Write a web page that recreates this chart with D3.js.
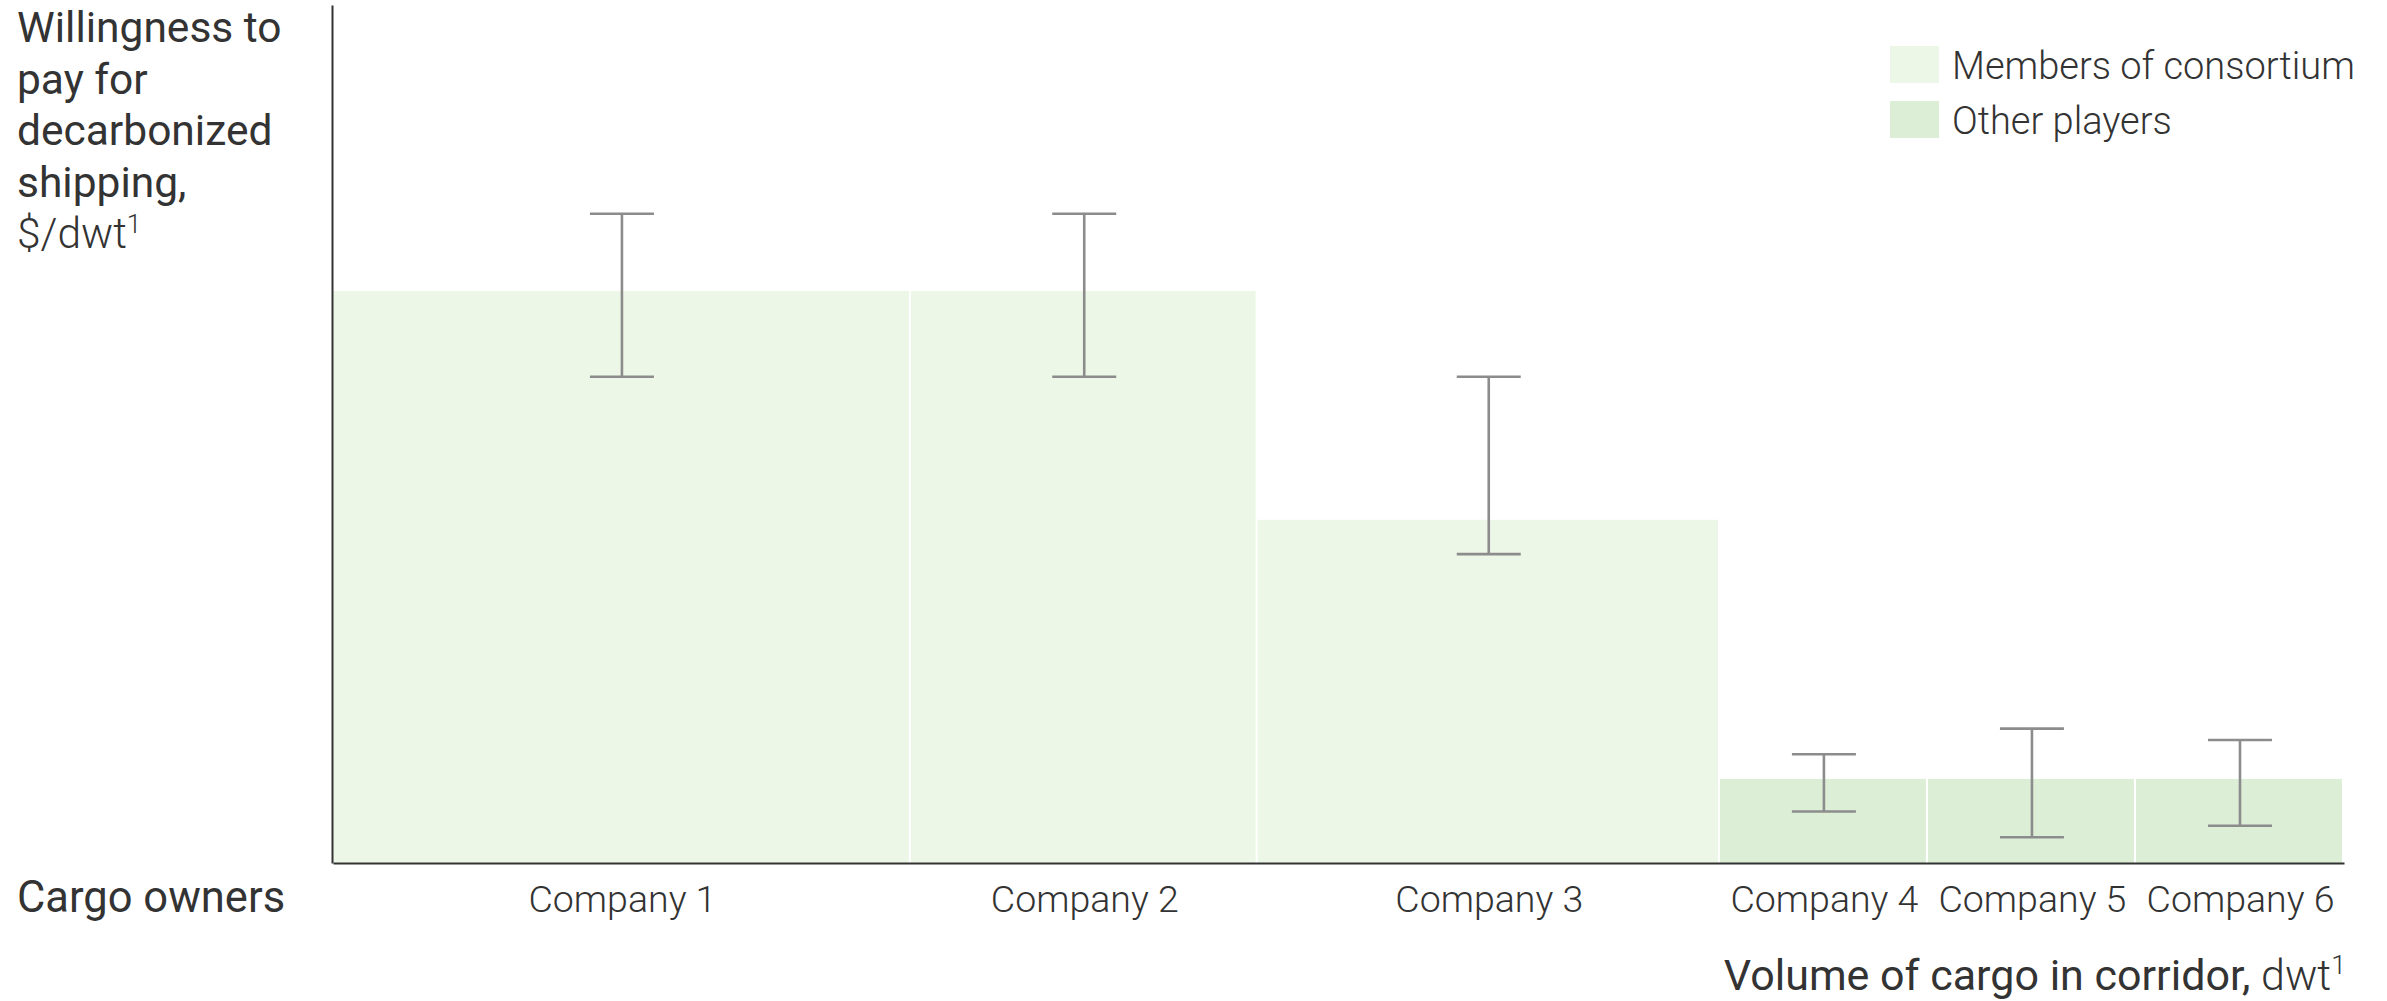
<!DOCTYPE html>
<html>
<head>
<meta charset="utf-8">
<script src="https://cdn.jsdelivr.net/npm/d3@7/dist/d3.min.js"></script>
<style>
  html, body { margin: 0; padding: 0; background: #ffffff; }
  svg { display: block; }
  text { font-family: Roboto, "Noto Sans", "Liberation Sans", sans-serif; fill: #333333; }
  .light { font-weight: 300; }
  .regular { font-weight: 400; }
</style>
</head>
<body>
<svg id="chart" width="2387" height="1001"></svg>
<script>
// Cargo owners in the corridor
const companies = ["Company 1", "Company 2", "Company 3", "Company 4", "Company 5", "Company 6"];
const groups = ["Members of consortium", "Members of consortium", "Members of consortium",
                "Other players", "Other players", "Other players"];
// Cargo volume (bar width) and willingness to pay (bar height)
const cargoVolume = [25, 15, 20, 9, 9, 9];
const willingness = [100, 100, 60, 14.7, 14.7, 14.7];
// Range of willingness to pay (error bars)
const rangeLow  = [85, 85, 54, 9, 4.5, 6.5];
const rangeHigh = [113.5, 113.5, 85, 19, 23.5, 21.5];
const legendGroups = ["Members of consortium", "Other players"];
const groupColors = ["#ecf7e7", "#dcefd6"];

const svg = d3.select("#chart");

const x = d3.scaleLinear().domain([0, d3.sum(cargoVolume)]).range([333, 2344]);
const y = d3.scaleLinear().domain([0, 150]).range([863, 5]);
const color = d3.scaleOrdinal().domain(legendGroups).range(groupColors);

// cumulative start of each bar along the volume axis
const starts = [];
cargoVolume.reduce((acc, v) => { starts.push(acc); return acc + v; }, 0);

const rows = companies.map((c, i) => ({
  name: c, group: groups[i], x0: starts[i], x1: starts[i] + cargoVolume[i],
  value: willingness[i], lo: rangeLow[i], hi: rangeHigh[i]
}));

// Variable-width bars
svg.append("g").selectAll("rect").data(rows).join("rect")
  .attr("x", d => x(d.x0))
  .attr("y", d => y(d.value))
  .attr("width", d => x(d.x1) - x(d.x0) - 2)
  .attr("height", d => y(0) - y(d.value))
  .attr("fill", d => color(d.group));

// Error bars
const capHalf = 32;
const eb = svg.append("g").attr("stroke", "#8c8c8c").attr("stroke-width", 2.6).attr("fill", "none");
rows.forEach(d => {
  const cx = (x(d.x0) + x(d.x1)) / 2;
  eb.append("line").attr("x1", cx).attr("x2", cx).attr("y1", y(d.hi)).attr("y2", y(d.lo));
  eb.append("line").attr("x1", cx - capHalf).attr("x2", cx + capHalf).attr("y1", y(d.hi)).attr("y2", y(d.hi));
  eb.append("line").attr("x1", cx - capHalf).attr("x2", cx + capHalf).attr("y1", y(d.lo)).attr("y2", y(d.lo));
});

// Axes
const mids = rows.map(d => (d.x0 + d.x1) / 2);
const xAxis = d3.axisBottom(x).tickValues(mids).tickSize(0).tickSizeOuter(0)
  .tickFormat((d, i) => companies[i]);
const gx = svg.append("g").attr("transform", `translate(0,${y(0)})`).call(xAxis);
gx.select(".domain").attr("stroke", "#333").attr("stroke-width", 2);
gx.selectAll(".tick text")
  .attr("class", "light")
  .attr("y", 0).attr("dy", 0)
  .attr("transform", "translate(0,49)")
  .style("font-size", "37.5px")
  .style("font-family", "Roboto, sans-serif")
  .attr("fill", "#333");

const yAxis = d3.axisLeft(y).tickValues([]).tickSizeOuter(0);
const gy = svg.append("g").attr("transform", `translate(${x(0) - 1},0)`).call(yAxis);
gy.select(".domain").attr("stroke", "#333").attr("stroke-width", 2);

// small raised "1" footnote marker
function footnote(sel) {
  sel.append("tspan").attr("class", "light").attr("baseline-shift", "super")
    .style("font-size", "62%").text("1");
}

// Y axis title
const yTitle = ["Willingness to", "pay for", "decarbonized", "shipping,"];
const yt = svg.append("text").attr("x", 17).attr("y", 42).style("font-size", "42.5px");
yTitle.forEach((t, i) => {
  yt.append("tspan").attr("class", "regular").attr("x", 17).attr("dy", i === 0 ? 0 : 51.5).text(t);
});
yt.append("tspan").attr("class", "light").attr("x", 17).attr("dy", 51.5).text("$/dwt");
footnote(yt);

// Category title
svg.append("text").attr("class", "regular").attr("x", 17).attr("y", 912)
  .style("font-size", "43.5px").text("Cargo owners");

// X axis title
const xt = svg.append("text").attr("x", 2346).attr("y", 990).attr("text-anchor", "end")
  .style("font-size", "43px");
xt.append("tspan").attr("class", "regular").text("Volume of cargo in corridor, ");
xt.append("tspan").attr("class", "light").text("dwt");
footnote(xt);

// Legend
const lg = svg.append("g").attr("transform", "translate(1890,46)");
legendGroups.forEach((g, i) => {
  lg.append("rect").attr("x", 0).attr("y", i * 55).attr("width", 49).attr("height", 37)
    .attr("fill", color(g));
  lg.append("text").attr("class", "light").attr("x", 62).attr("y", i * 55 + 33)
    .style("font-size", "38px").text(g);
});
</script>
</body>
</html>
